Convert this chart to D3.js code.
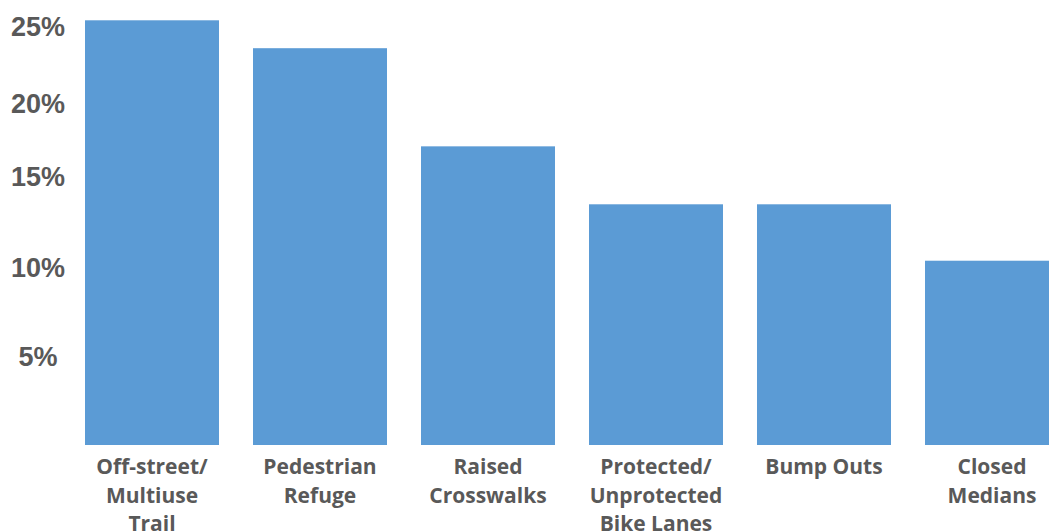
<!DOCTYPE html>
<meta charset="utf-8">
<title>Preferred facilities</title>
<style>
body {
  margin: 0;
  background: #fff;
}
svg {
  display: block;
  font-family: "Open Sans", sans-serif;
  font-weight: 700;
}
.y-axis text {
  fill: #595959;
  font-size: 27px;
}
.x-label {
  fill: #595959;
  font-size: 21px;
}
</style>
<body></body>
<script src="https://d3js.org/d3.v7.min.js"></script>
<script>
var categories = [
  'Off-street/\nMultiuse\nTrail',
  'Pedestrian\nRefuge',
  'Raised\nCrosswalks',
  'Protected/\nUnprotected\nBike Lanes',
  'Bump Outs',
  'Closed\nMedians'
];
var shares = [25.4, 23.6, 17.1, 13.5, 13.5, 10.4];
var tickValues = [5, 10, 15, 20, 25];

var width = 1049,
    height = 531,
    barColor = '#5b9bd5';

var svg = d3.select('body')
  .append('svg')
  .attr('width', width)
  .attr('height', height);

// the original axis is not evenly spaced, so map each labelled value to where it sits
var y = d3.scaleLinear()
  .domain([0, 5, 10, 15, 20, 25])
  .range([445, 357, 268, 177, 104, 26.5]);

var x = d3.scaleBand()
  .domain(categories)
  .range([68, 1076])
  .paddingInner(0.2024)
  .paddingOuter(0.1012);

svg.selectAll('rect.bar')
  .data(shares)
  .enter()
  .append('rect')
  .attr('class', 'bar')
  .attr('x', function (d, i) { return x(categories[i]); })
  .attr('y', function (d) { return y(d); })
  .attr('width', x.bandwidth())
  .attr('height', function (d) { return y(0) - y(d); })
  .style('fill', barColor);

var yAxis = svg.append('g')
  .attr('class', 'y-axis')
  .attr('transform', 'translate(38,0)')
  .call(d3.axisLeft(y)
    .tickValues(tickValues)
    .tickSize(0)
    .tickPadding(0)
    .tickFormat(function (d) { return d + '%'; }));

yAxis.select('.domain').remove();
yAxis.selectAll('text')
  .attr('x', 0)
  .attr('text-anchor', 'middle')
  .attr('font-family', null)
  .attr('font-size', null);

var labels = svg.selectAll('text.x-label')
  .data(categories)
  .enter()
  .append('text')
  .attr('class', 'x-label')
  .attr('text-anchor', 'middle')
  .attr('x', function (d) { return x(d) + x.bandwidth() / 2; })
  .attr('y', 474);

labels.selectAll('tspan')
  .data(function (d) { return d.split('\n'); })
  .enter()
  .append('tspan')
  .attr('x', function () { return d3.select(this.parentNode).attr('x'); })
  .attr('dy', function (d, i) { return i === 0 ? 0 : 28.5; })
  .text(function (d) { return d; });
</script>
